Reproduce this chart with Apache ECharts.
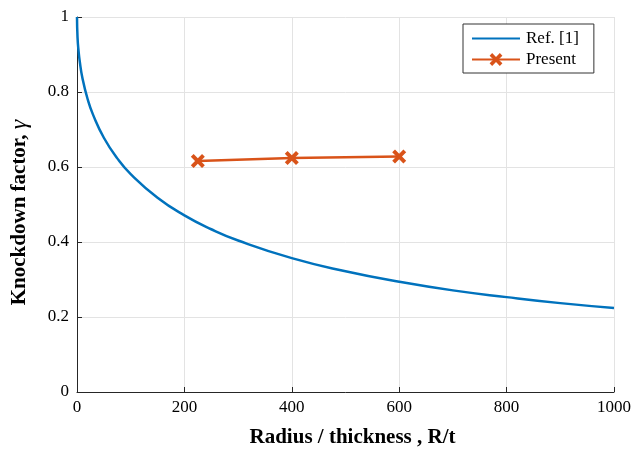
<!DOCTYPE html>
<html>
<head>
<meta charset="utf-8">
<script src="https://cdn.jsdelivr.net/npm/echarts@6/dist/echarts.min.js"></script>
<style>
  html, body { margin: 0; padding: 0; background: #fff; }
  #chart { width: 644px; height: 449px; }
</style>
</head>
<body>
<div id="chart"></div>
<script>
// Ref. [1] curve (R/t, knockdown factor)
const refRt = [0, 1, 3, 5, 10, 20, 30, 50, 75, 100, 150, 200, 250, 300, 400, 500, 600, 700, 800, 900, 1000];
const refGamma = [1.0, 0.945, 0.908, 0.883, 0.838, 0.780, 0.739, 0.678, 0.623, 0.581, 0.518, 0.471, 0.434, 0.404, 0.357, 0.322, 0.294, 0.271, 0.253, 0.237, 0.224];

// Present results
const presentRt = [225, 400, 600];
const presentGamma = [0.616, 0.624, 0.628];

const xTicks = [0, 200, 400, 600, 800, 1000];
const yTicks = [0, 0.2, 0.4, 0.6, 0.8, 1];

const serif = '"Liberation Serif", "DejaVu Serif", serif';
const blue = '#0072BD';
const orange = '#D95319';
const xMark = 'path://M2,0 L5,3 L8,0 L10,2 L7,5 L10,8 L8,10 L5,7 L2,10 L0,8 L3,5 L0,2 Z';

const chart = echarts.init(document.getElementById('chart'));

chart.setOption({
  animation: false,
  backgroundColor: '#fff',
  grid: { left: 77, right: 30, top: 17, bottom: 57, containLabel: false, outerBoundsMode: 'none' },
  legend: {
    orient: 'vertical',
    left: 463,
    top: 24,
    backgroundColor: '#fff',
    borderColor: '#333',
    borderWidth: 1,
    borderRadius: 0,
    padding: [6, 15, 5, 8],
    itemGap: 4,
    itemWidth: 48,
    itemHeight: 16,
    textStyle: { fontFamily: serif, fontSize: 17, color: '#000', padding: [0, 0, 0, 1] },
    data: ['Ref. [1]', 'Present']
  },
  xAxis: {
    type: 'value',
    min: xTicks[0],
    max: xTicks[xTicks.length - 1],
    interval: xTicks[1] - xTicks[0],
    name: 'Radius / thickness , R/t',
    nameLocation: 'middle',
    nameGap: 35,
    nameTextStyle: { fontFamily: serif, fontSize: 21, fontWeight: 'bold', color: '#000', padding: [0, 0, 0, 14] },
    axisLine: { lineStyle: { color: '#262626', width: 1 } },
    axisTick: { inside: true, length: 5, lineStyle: { color: '#262626' } },
    axisLabel: { fontFamily: serif, fontSize: 17, color: '#000', margin: 7, formatter: (v) => String(v) },
    splitLine: { show: true, lineStyle: { color: '#e3e3e3', width: 1 } }
  },
  yAxis: {
    type: 'value',
    min: yTicks[0],
    max: yTicks[yTicks.length - 1],
    interval: 0.2,
    name: '{b|Knockdown factor, }{g|γ}',
    nameLocation: 'middle',
    nameGap: 45,
    nameRotate: 90,
    nameTextStyle: {
      padding: [0, 16, 0, 0],
      rich: {
        b: { fontFamily: serif, fontSize: 21, fontWeight: 'bold', color: '#000' },
        g: { fontFamily: serif, fontSize: 24, fontStyle: 'italic', color: '#000' }
      }
    },
    axisLine: { show: true, lineStyle: { color: '#262626', width: 1 } },
    axisTick: { show: true, inside: true, length: 5, lineStyle: { color: '#262626' } },
    axisLabel: { fontFamily: serif, fontSize: 17, color: '#000', margin: 8 },
    splitLine: { show: true, lineStyle: { color: '#e3e3e3', width: 1 } }
  },
  series: [
    {
      name: 'Ref. [1]',
      type: 'line',
      smooth: true,
      showSymbol: false,
      symbol: 'none',
      lineStyle: { color: blue, width: 2.5 },
      itemStyle: { color: blue, opacity: 0 },
      data: refRt.map((x, i) => [x, refGamma[i]])
    },
    {
      name: 'Present',
      type: 'line',
      symbol: xMark,
      symbolSize: 14,
      lineStyle: { color: orange, width: 2.5 },
      itemStyle: { color: orange },
      data: presentRt.map((x, i) => [x, presentGamma[i]])
    }
  ]
});
</script>
</body>
</html>
